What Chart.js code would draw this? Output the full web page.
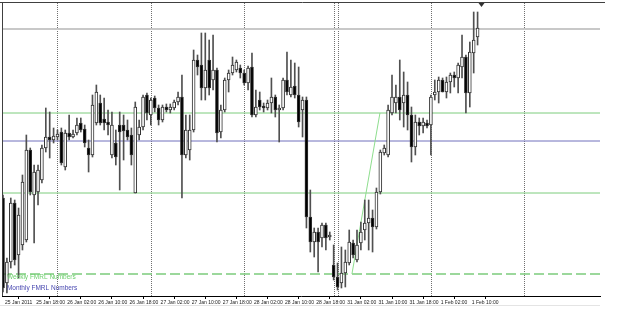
<!DOCTYPE html>
<html>
<head>
<meta charset="utf-8">
<script src="https://cdn.jsdelivr.net/npm/chart.js@4.4.1/dist/chart.umd.min.js"></script>
<style>
  html, body { margin: 0; padding: 0; background: #fff; }
  canvas { display: block; }
</style>
</head>
<body>
<canvas id="chart" width="625" height="309"></canvas>
<script>
// H1 candles, 25 Jan 2011 10:00 -> 1 Feb 2011 (one entry per bar)
const opens = [
  1.3658, 1.3573, 1.3594, 1.3653, 1.3601, 1.3611, 1.3616, 1.3706, 1.3661, 1.3664,
  1.3676, 1.3708, 1.3719, 1.3716, 1.3719, 1.3724, 1.3689, 1.3723, 1.3719, 1.3723,
  1.3733, 1.3727, 1.3708, 1.3701, 1.3733, 1.3753, 1.3737, 1.3734, 1.3701, 1.3713,
  1.3731, 1.3731, 1.3726, 1.3721, 1.3663, 1.3721, 1.3729, 1.3761, 1.3741, 1.3758,
  1.3748, 1.3736, 1.3749, 1.3746, 1.3748, 1.3754, 1.3759, 1.3701, 1.3706, 1.3726,
  1.3796, 1.3791, 1.3768, 1.3796, 1.3776, 1.3786, 1.3724, 1.3746, 1.3776, 1.3783,
  1.3786, 1.3788, 1.3783, 1.3773, 1.3789, 1.3741, 1.3756, 1.3750, 1.3748, 1.3753,
  1.3759, 1.3746, 1.3748, 1.3776, 1.3761, 1.3770, 1.3761, 1.3746, 1.3756, 1.3639,
  1.3614, 1.3624, 1.3618, 1.3631, 1.3619, 1.3591, 1.3579, 1.3573, 1.3583, 1.3593,
  1.3613, 1.3596, 1.3613, 1.3626, 1.3633, 1.3638, 1.3629, 1.3664, 1.3703, 1.3701,
  1.3743, 1.3753, 1.3759, 1.3753, 1.3761, 1.3741, 1.3709, 1.3734, 1.3730, 1.3733,
  1.3731, 1.3761, 1.3764, 1.3776, 1.3764, 1.3774, 1.3781, 1.3778, 1.3789, 1.3799,
  1.3763, 1.3803, 1.3819
];
const highs = [
  1.3661, 1.3598, 1.3658, 1.3656, 1.3648, 1.3681, 1.3721, 1.3708, 1.3691, 1.3691,
  1.3711, 1.3748, 1.3744, 1.3728, 1.3726, 1.3728, 1.3726, 1.3741, 1.3726, 1.3738,
  1.3738, 1.3731, 1.3716, 1.3761, 1.3771, 1.3761, 1.3758, 1.3746, 1.3744, 1.3726,
  1.3744, 1.3741, 1.3736, 1.3728, 1.3754, 1.3736, 1.3761, 1.3763, 1.3758, 1.3760,
  1.3751, 1.3751, 1.3752, 1.3752, 1.3756, 1.3764, 1.3781, 1.3741, 1.3741, 1.3806,
  1.3801, 1.3823, 1.3823, 1.3816, 1.3821, 1.3788, 1.3751, 1.3778, 1.3786, 1.3799,
  1.3796, 1.3791, 1.3786, 1.3790, 1.3803, 1.3766, 1.3764, 1.3753, 1.3756, 1.3778,
  1.3761, 1.3751, 1.3778, 1.3804, 1.3796, 1.3793, 1.3789, 1.3759, 1.3759, 1.3666,
  1.3628, 1.3628, 1.3633, 1.3633, 1.3624, 1.3611, 1.3593, 1.3609, 1.3606, 1.3626,
  1.3616, 1.3626, 1.3634, 1.3656, 1.3656, 1.3646, 1.3668, 1.3706, 1.3711, 1.3751,
  1.3781, 1.3771, 1.3796, 1.3784, 1.3774, 1.3749, 1.3741, 1.3738, 1.3738, 1.3736,
  1.3761, 1.3776, 1.3779, 1.3778, 1.3779, 1.3783, 1.3784, 1.3793, 1.3821, 1.3801,
  1.3814, 1.3844, 1.3844
];
const lows = [
  1.3564, 1.3563, 1.3588, 1.3591, 1.3578, 1.3606, 1.3614, 1.3661, 1.3613, 1.3651,
  1.3673, 1.3704, 1.3698, 1.3713, 1.3716, 1.3691, 1.3686, 1.3716, 1.3718, 1.3721,
  1.3724, 1.3709, 1.3684, 1.3699, 1.3731, 1.3731, 1.3726, 1.3721, 1.3698, 1.3691,
  1.3666, 1.3696, 1.3716, 1.3691, 1.3663, 1.3716, 1.3726, 1.3736, 1.3731, 1.3744,
  1.3731, 1.3734, 1.3744, 1.3743, 1.3746, 1.3751, 1.3658, 1.3698, 1.3696, 1.3724,
  1.3781, 1.3756, 1.3756, 1.3761, 1.3766, 1.3714, 1.3718, 1.3744, 1.3764, 1.3781,
  1.3784, 1.3778, 1.3771, 1.3766, 1.3739, 1.3739, 1.3746, 1.3744, 1.3746, 1.3743,
  1.3739, 1.3714, 1.3746, 1.3761, 1.3759, 1.3758, 1.3729, 1.3719, 1.3628, 1.3604,
  1.3599, 1.3584, 1.3609, 1.3606, 1.3616, 1.3576, 1.3566, 1.3568, 1.3569, 1.3591,
  1.3598, 1.3594, 1.3606, 1.3616, 1.3606, 1.3604, 1.3627, 1.3662, 1.3701, 1.3699,
  1.3741, 1.3743, 1.3736, 1.3729, 1.3726, 1.3694, 1.3701, 1.3721, 1.3723, 1.3728,
  1.3701, 1.3756, 1.3753, 1.3764, 1.3758, 1.3763, 1.3769, 1.3763, 1.3778, 1.3743,
  1.3749, 1.3783, 1.3811
];
const closes = [
  1.3568, 1.3594, 1.3653, 1.3596, 1.3641, 1.3674, 1.3706, 1.3664, 1.3684, 1.3686,
  1.3708, 1.3719, 1.3716, 1.3720, 1.3722, 1.3693, 1.3723, 1.3719, 1.3722, 1.3731,
  1.3726, 1.3713, 1.3701, 1.3751, 1.3764, 1.3733, 1.3733, 1.3731, 1.3731, 1.3699,
  1.3724, 1.3725, 1.3719, 1.3701, 1.3749, 1.3729, 1.3759, 1.3743, 1.3756, 1.3748,
  1.3736, 1.3749, 1.3746, 1.3749, 1.3754, 1.3759, 1.3701, 1.3726, 1.3726, 1.3796,
  1.3789, 1.3768, 1.3786, 1.3768, 1.3786, 1.3723, 1.3746, 1.3776, 1.3783, 1.3791,
  1.3794, 1.3783, 1.3773, 1.3788, 1.3741, 1.3749, 1.3749, 1.3748, 1.3753, 1.3759,
  1.3746, 1.3748, 1.3776, 1.3764, 1.3769, 1.3761, 1.3734, 1.3756, 1.3639, 1.3614,
  1.3624, 1.3614, 1.3631, 1.3618, 1.3621, 1.3579, 1.3569, 1.3583, 1.3594, 1.3614,
  1.3601, 1.3611, 1.3624, 1.3633, 1.3638, 1.3629, 1.3664, 1.3704, 1.3708, 1.3746,
  1.3759, 1.3759, 1.3746, 1.3761, 1.3741, 1.3709, 1.3734, 1.3730, 1.3734, 1.3730,
  1.3759, 1.3764, 1.3776, 1.3764, 1.3774, 1.3781, 1.3778, 1.3791, 1.3799, 1.3763,
  1.3804, 1.3816, 1.3828
];

// time axis labels, one every 8 bars
const tickIndex = [0, 8, 16, 24, 32, 40, 48, 56, 64, 72, 80, 88, 96, 104, 112, 120];
const tickText = [
  "25 Jan 2011", "25 Jan 18:00", "26 Jan 02:00", "26 Jan 10:00", "26 Jan 18:00",
  "27 Jan 02:00", "27 Jan 10:00", "27 Jan 18:00", "28 Jan 02:00", "28 Jan 10:00",
  "28 Jan 18:00", "31 Jan 02:00", "31 Jan 10:00", "31 Jan 18:00", "1 Feb 02:00", "1 Feb 10:00"
];

// period separators (bar index where a new day starts)
const daySeparators = [14, 38, 62, 85, 86, 110, 134];

// FMRL levels
const topLevel = 1.3827;
const weeklyLevels = [1.3743, 1.3663];
const monthlyLevel = 1.3715;
const weeklyDashed = 1.3582;
const trendX = [89.7, 96.9];
const trendY = [1.3582, 1.3743];

const X_MIN = -0.26, X_MAX = 153.47;
const Y_MIN = 1.3560, Y_MAX = 1.3853;

const idx = opens.map((_, i) => i);

function hLine(y, color, width, dash) {
    return {
        type: 'line',
        data: [{ x: X_MIN, y: y }, { x: X_MAX, y: y }],
        borderColor: color,
        borderWidth: width,
        borderDash: dash || [],
        pointRadius: 0,
        order: 5
    };
}

const overlay = {
    id: 'overlay',
    beforeDraw(chart) {
        const c = chart.ctx;
        c.save();
        c.fillStyle = '#fff';
        c.fillRect(0, 0, chart.width, chart.height);
        c.restore();
    },
    beforeDatasetsDraw(chart) {
        const c = chart.ctx, a = chart.chartArea, xs = chart.scales.x;
        c.save();
        c.strokeStyle = '#707070';
        c.lineWidth = 1;
        c.setLineDash([1, 1]);
        daySeparators.forEach(v => {
            const px = Math.round(xs.getPixelForValue(v)) + 0.5;
            c.beginPath();
            c.moveTo(px, a.top);
            c.lineTo(px, a.bottom);
            c.stroke();
        });
        c.restore();
    },
    afterDraw(chart) {
        const c = chart.ctx, a = chart.chartArea, xs = chart.scales.x, ys = chart.scales.y;
        c.save();
        // frame
        c.strokeStyle = '#404040';
        c.lineWidth = 1;
        c.beginPath();
        c.moveTo(0, 2.5); c.lineTo(605, 2.5);
        c.moveTo(2.5, 2.5); c.lineTo(2.5, a.bottom);
        c.stroke();
        c.strokeStyle = '#e4e4e4';
        c.beginPath();
        c.moveTo(0, 305.5); c.lineTo(600, 305.5);
        c.stroke();
        // chart shift marker
        const sx = xs.getPixelForValue(123);
        c.fillStyle = '#303030';
        c.beginPath();
        c.moveTo(sx - 3, 3); c.lineTo(sx + 3, 3); c.lineTo(sx, 7);
        c.closePath(); c.fill();
        // level captions
        c.font = '6.5px "Liberation Sans", Arial, sans-serif';
        c.textBaseline = 'middle';
        c.fillStyle = '#6ccf6c';
        c.fillText('Weekly FMRL Numbers', xs.getPixelForValue(1), ys.getPixelForValue(1.3579));
        c.fillStyle = '#4848b0';
        c.fillText('Monthly FMRL Numbers', xs.getPixelForValue(1), ys.getPixelForValue(1.35675));
        c.restore();
    }
};

new Chart(document.getElementById('chart'), {
    type: 'bar',
    data: {
        datasets: [
            {
                // bodies
                data: idx.map(i => ({ x: i, y: [opens[i], closes[i]] })),
                backgroundColor: idx.map(i => closes[i] >= opens[i] ? '#ffffff' : '#000000'),
                borderColor: '#303030',
                borderWidth: 1,
                borderSkipped: false,
                barThickness: 3,
                minBarLength: 1,
                grouped: false,
                order: 1
            },
            {
                // wicks
                data: idx.map(i => ({ x: i, y: [lows[i], highs[i]] })),
                backgroundColor: '#505050',
                barThickness: 1,
                grouped: false,
                order: 2
            },
            hLine(topLevel, '#c8c8c8', 2),
            hLine(weeklyLevels[0], '#7ccc7c', 1),
            hLine(monthlyLevel, '#7070bc', 1),
            hLine(weeklyLevels[1], '#7ccc7c', 1),
            hLine(weeklyDashed, '#7ccc7c', 1.5, [10, 4]),
            {
                type: 'line',
                data: trendX.map((x, k) => ({ x: x, y: trendY[k] })),
                borderColor: '#8ede8e',
                borderWidth: 1,
                pointRadius: 0,
                order: 4
            }
        ]
    },
    options: {
        responsive: false,
        animation: false,
        devicePixelRatio: 1,
        layout: { padding: { left: 2, right: 25, top: 3, bottom: 2 } },
        plugins: { legend: { display: false }, tooltip: { enabled: false } },
        scales: {
            x: {
                type: 'linear',
                min: X_MIN,
                max: X_MAX,
                offset: false,
                afterBuildTicks: axis => { axis.ticks = tickIndex.map(v => ({ value: v })); },
                ticks: {
                    autoSkip: false,
                    maxRotation: 0,
                    align: 'start',
                    labelOffset: 2,
                    padding: 1,
                    color: '#222',
                    font: { size: 5, family: '"Liberation Sans", Arial, sans-serif' },
                    callback: v => tickText[tickIndex.indexOf(v)]
                },
                grid: { display: true, drawOnChartArea: false, drawTicks: true, tickLength: 3, color: '#000' },
                border: { display: true, color: '#000' }
            },
            y: {
                display: false,
                min: Y_MIN,
                max: Y_MAX
            }
        }
    },
    plugins: [overlay]
});
</script>
</body>
</html>
